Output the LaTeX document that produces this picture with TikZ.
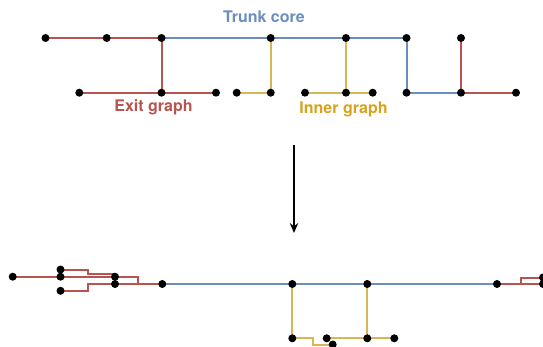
\documentclass[tikz,border=0pt]{standalone}
\usepackage{fontspec}
\setmainfont{TeX Gyre Heros}
\usetikzlibrary{arrows.meta,backgrounds}

\definecolor{exitred}{HTML}{B85450}
\definecolor{trunkblue}{HTML}{6C8EBF}
\definecolor{innergold}{HTML}{D6B656}
\definecolor{innertext}{HTML}{D7A21E}

\tikzset{
  dot/.style={circle, fill=black, inner sep=0pt, minimum size=8pt},
  exit/.style={exitred, line width=2pt},
  trunk/.style={trunkblue, line width=2pt},
  inner/.style={innergold, line width=2pt},
  lbl/.style={font=\fontsize{16}{19}\selectfont\bfseries, anchor=base, inner sep=0pt}
}

\begin{document}
\begin{tikzpicture}[x=1pt, y=-1pt]
  \useasboundingbox (0,0) rectangle (543,347);

  % Top graph: upper row
  \node[dot] (t1) at (45.5,38) {};
  \node[dot] (t2) at (106.7,38) {};
  \node[dot] (t3) at (161.5,38) {};
  \node[dot] (t4) at (270.7,38) {};
  \node[dot] (t5) at (346,38) {};
  \node[dot] (t6) at (406.5,38) {};
  \node[dot] (t7) at (461,38) {};

  % Top graph: lower row
  \node[dot] (b1) at (79.3,92.7) {};
  \node[dot] (b2) at (161.5,92.7) {};
  \node[dot] (b3) at (216,92.7) {};
  \node[dot] (b4) at (236.7,92.7) {};
  \node[dot] (b5) at (270.7,92.7) {};
  \node[dot] (b6) at (305,92.7) {};
  \node[dot] (b7) at (346,92.7) {};
  \node[dot] (b8) at (372.7,92.7) {};
  \node[dot] (b9) at (406.5,92.7) {};
  \node[dot] (b10) at (461,92.7) {};
  \node[dot] (b11) at (516,92.7) {};

  % Labels
  \node[lbl, text=trunkblue] (trunklbl) at (264,22.7) {Trunk core};
  \node[lbl, text=exitred] (exitlbl) at (153.5,111.7) {Exit graph};
  \node[lbl, text=innertext] (innerlbl) at (343.5,113.3) {Inner graph};

  % Bottom graph: exit part on the left
  \node[dot] (l1) at (12.7,276.7) {};
  \node[dot] (l2) at (60.5,269.5) {};
  \node[dot] (l3) at (60.5,276.7) {};
  \node[dot] (l4) at (60.5,290.8) {};
  \node[dot] (l5) at (115,276.7) {};
  \node[dot] (l6) at (115,284) {};
  \node[dot] (l7) at (162.3,284) {};

  % Bottom graph: trunk and the right exit
  \node[dot] (m2) at (292.3,284) {};
  \node[dot] (m3) at (367.3,284) {};
  \node[dot] (m4) at (497,284) {};
  \node[dot] (r1) at (543,277.5) {};
  \node[dot] (r2) at (543,284) {};

  % Bottom graph: inner part
  \node[dot] (i1) at (292.3,338.3) {};
  \node[dot] (i2) at (326.7,338.3) {};
  \node[dot] (i3) at (332.7,344.5) {};
  \node[dot] (i4) at (367.3,338.3) {};
  \node[dot] (i5) at (394.3,338.3) {};

  % Arrow between the two graphs
  \coordinate (from) at (294,145);
  \coordinate (to) at (294,233);
  \draw[line width=1.2pt, -{Stealth[length=10pt,width=8.5pt]}] (from) -- (to);

  \begin{scope}[on background layer]
    % Top edges
    \draw[exit] (t1.center) -- (t2.center) -- (t3.center) -- (b2.center);
    \draw[exit] (b1.center) -- (b2.center) -- (b3.center);
    \draw[exit] (t7.center) -- (b10.center) -- (b11.center);
    \draw[trunk] (t3.center) -- (t4.center) -- (t5.center) -- (t6.center) -- (b9.center) -- (b10.center);
    \draw[inner] (b4.center) -- (b5.center) -- (t4.center);
    \draw[inner] (t5.center) -- (b7.center);
    \draw[inner] (b6.center) -- (b7.center) -- (b8.center);

    % Bottom edges
    \draw[exit] (l1.center) -- (l3.center) -- (l5.center) -| (138.3,284) -- (l7.center);
    \draw[exit] (l2.center) -| (88,274) -- (l5.center |- 0,274);
    \draw[exit] (l4.center) -| (88,284) -- (l6.center) -- (l7.center);
    \draw[exit] (m4.center) -- (r2.center);
    \draw[exit] (m4.center) -| (520.7,277.5) -- (r1.center);
    \draw[trunk] (l7.center) -- (m2.center) -- (m3.center) -- (m4.center);
    \draw[inner] (m2.center) -- (i1.center) -| (313,344.5) -- (i3.center);
    \draw[inner] (i2.center) -- (i4.center) -- (i5.center);
    \draw[inner] (m3.center) -- (i4.center);
  \end{scope}
\end{tikzpicture}
\end{document}
